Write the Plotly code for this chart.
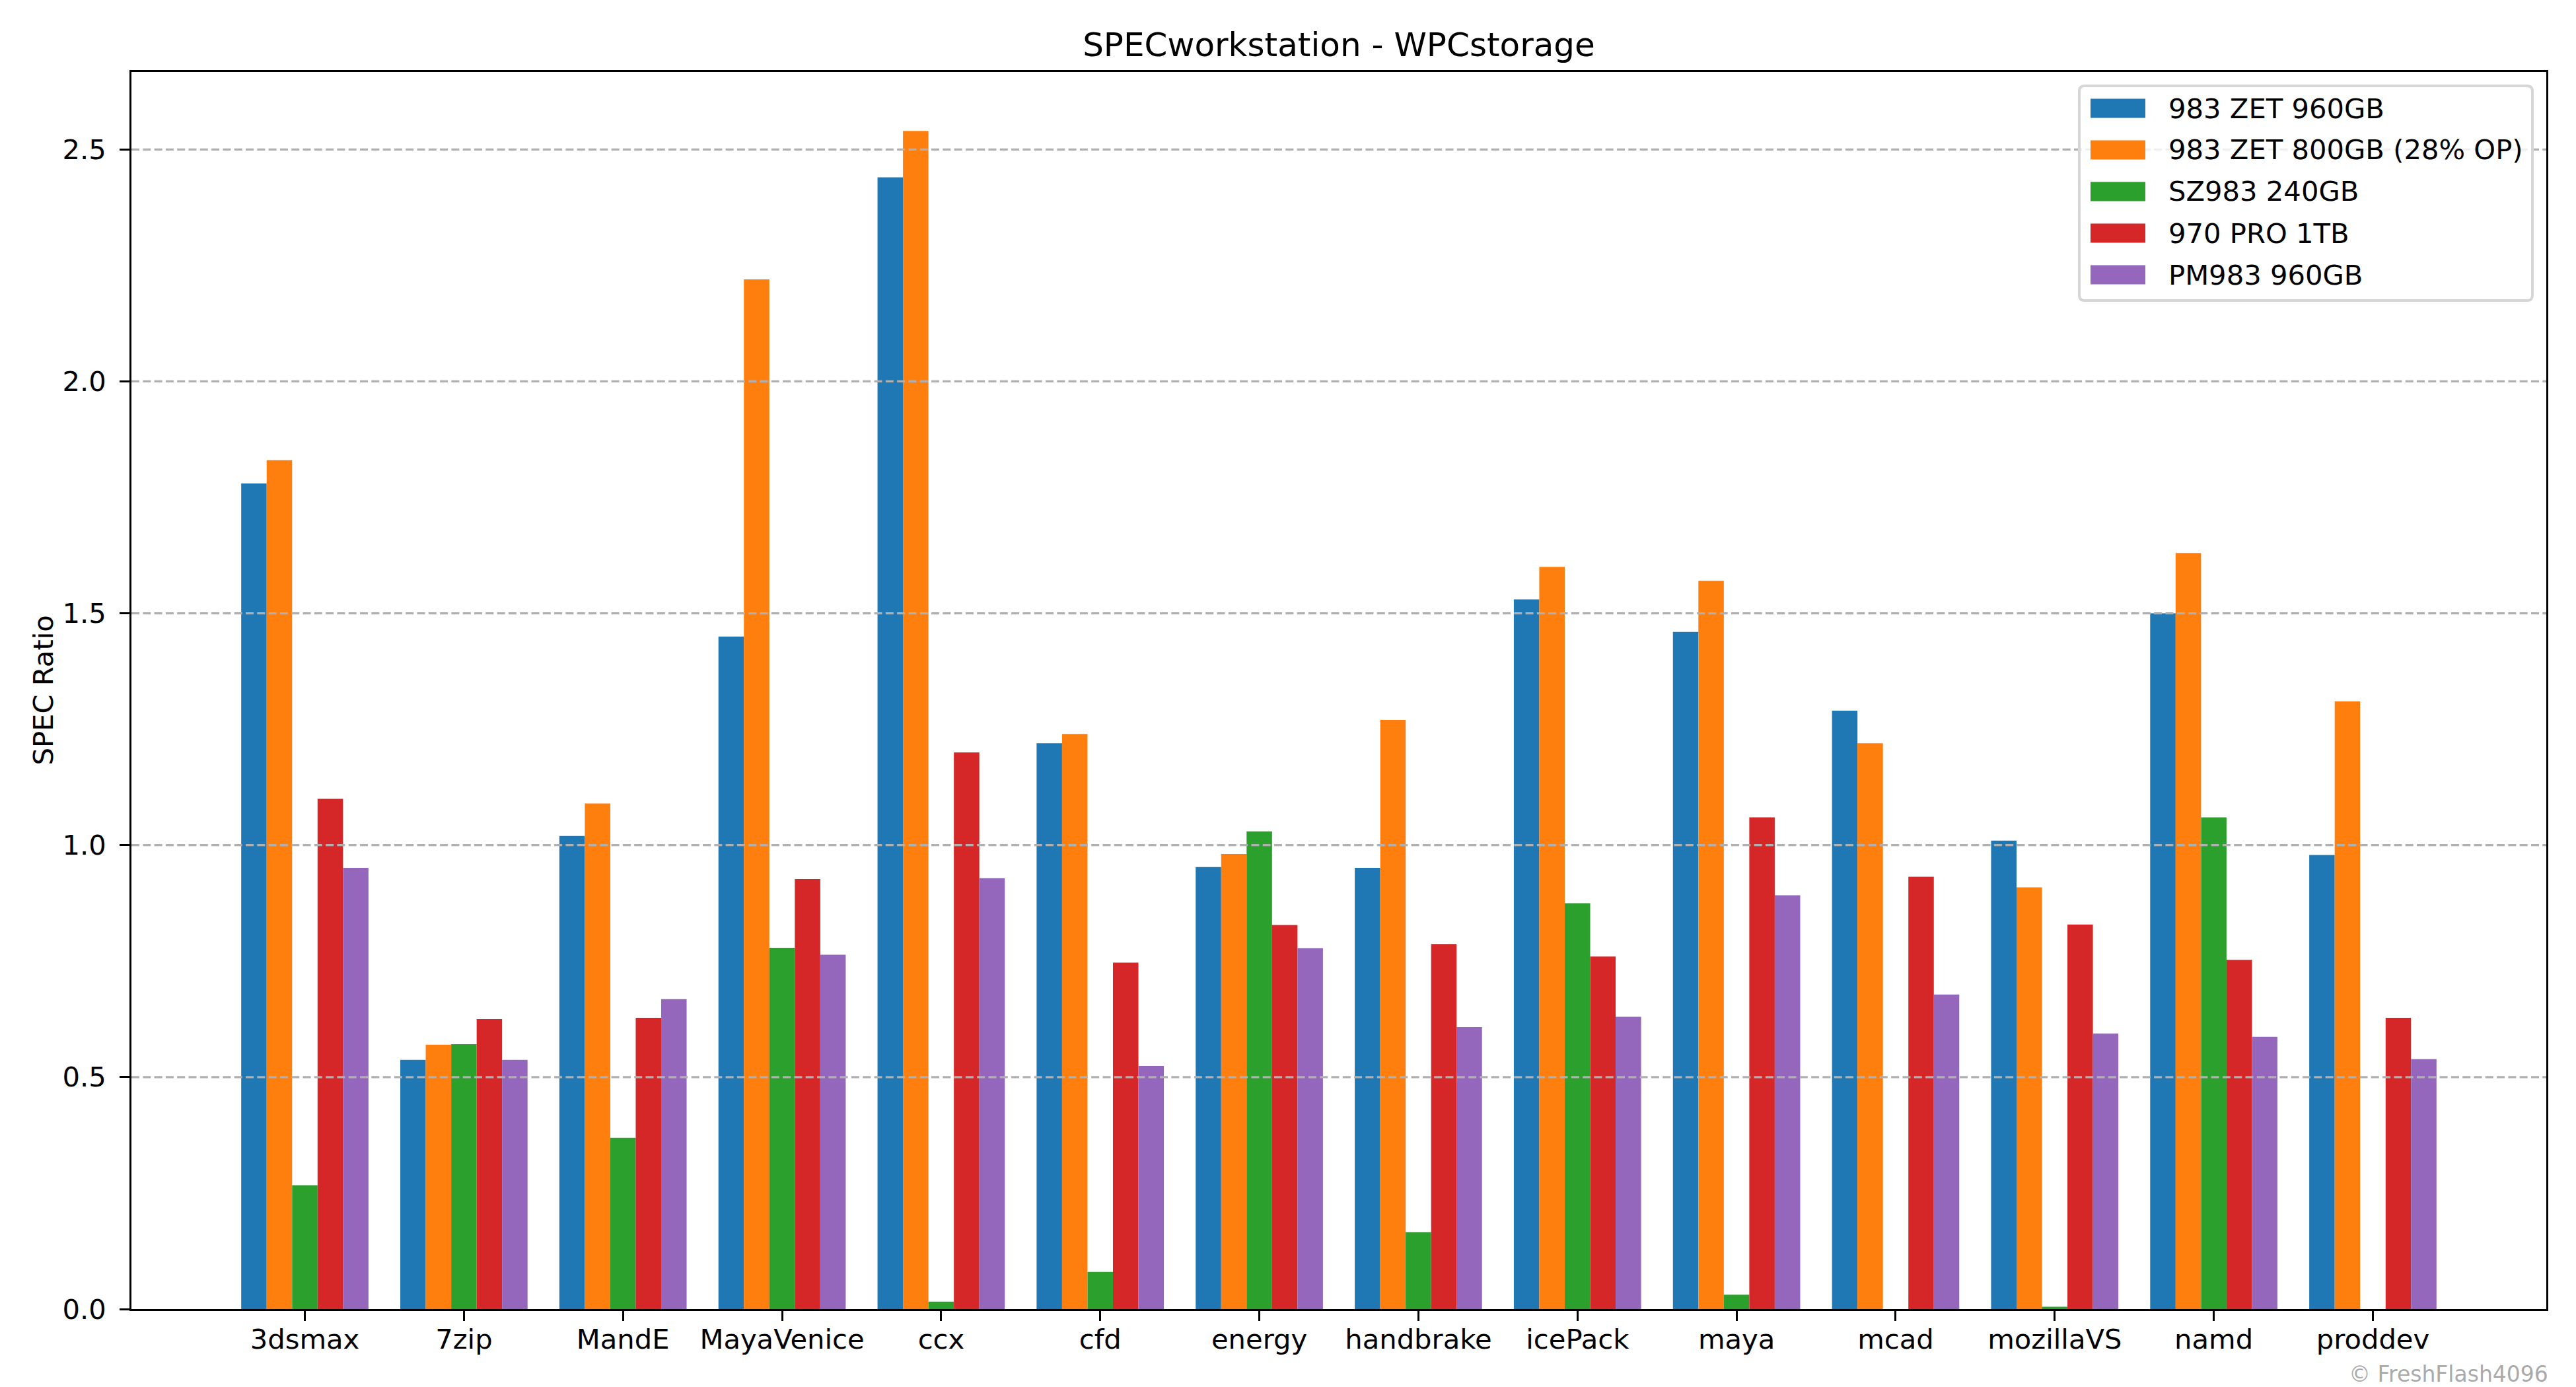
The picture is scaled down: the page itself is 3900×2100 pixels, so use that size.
import plotly.graph_objects as go

# ---- data -------------------------------------------------------------
categories = ["3dsmax", "7zip", "MandE", "MayaVenice", "ccx", "cfd", "energy",
              "handbrake", "icePack", "maya", "mcad", "mozillaVS", "namd", "proddev"]

series_names = ["983 ZET 960GB", "983 ZET 800GB (28% OP)", "SZ983 240GB",
                "970 PRO 1TB", "PM983 960GB"]

zet_960 = [1.78, 0.537, 1.02, 1.45, 2.44, 1.22, 0.953, 0.951, 1.53, 1.46, 1.29, 1.01, 1.50, 0.979]
zet_800 = [1.83, 0.570, 1.09, 2.22, 2.54, 1.24, 0.981, 1.27, 1.60, 1.57, 1.22, 0.909, 1.63, 1.31]
sz983_240 = [0.267, 0.571, 0.369, 0.779, 0.016, 0.080, 1.03, 0.166, 0.875, 0.031, 0.0, 0.005, 1.06, 0.0]
pro970_1tb = [1.10, 0.625, 0.628, 0.927, 1.20, 0.747, 0.828, 0.787, 0.760, 1.06, 0.932, 0.829, 0.753, 0.628]
pm983_960 = [0.951, 0.537, 0.668, 0.764, 0.929, 0.524, 0.778, 0.608, 0.630, 0.892, 0.678, 0.594, 0.587, 0.539]

y_ticks = [0.0, 0.5, 1.0, 1.5, 2.0, 2.5]

# ---- styling ------------------------------------------------------------
colors = ["#1f77b4", "#ff7f0e", "#2ca02c", "#d62728", "#9467bd"]
FONT = "DejaVu Sans"
W, H = 3900, 2100
L, R, T, B = 199, 3855, 109, 1982          # plot area in pixels
PW, PH = R - L, B - T


def xp(px):
    return (px - L) / PW


def yp(py):
    return (B - py) / PH


fig = go.Figure()
all_series = [zet_960, zet_800, sz983_240, pro970_1tb, pm983_960]
for name, vals, col in zip(series_names, all_series, colors):
    fig.add_trace(go.Bar(x=categories, y=vals, name=name, marker_color=col,
                         marker_line_width=0, showlegend=False))

shapes = []
# dashed grid lines drawn above the bars (as in the reference)
for v in y_ticks[1:]:
    shapes.append(dict(type="line", xref="paper", x0=0, x1=1, yref="y", y0=v, y1=v,
                       line=dict(color="#b0b0b0", width=3.3, dash="12px,5.3px"),
                       layer="above"))

# legend frame (rounded)
bx0, bx1, by0, by1 = xp(3148), xp(3834), yp(130), yp(455)
rx, ry = 8 / PW, 8 / PH
path = (f"M{bx0+rx},{by0} L{bx1-rx},{by0} Q{bx1},{by0} {bx1},{by0-ry} "
        f"L{bx1},{by1+ry} Q{bx1},{by1} {bx1-rx},{by1} L{bx0+rx},{by1} "
        f"Q{bx0},{by1} {bx0},{by1+ry} L{bx0},{by0-ry} Q{bx0},{by0} {bx0+rx},{by0} Z")
shapes.append(dict(type="path", xref="paper", yref="paper", path=path,
                   fillcolor="rgba(255,255,255,0.8)",
                   line=dict(color="#d6d6d6", width=4), layer="above"))

annotations = []
for i, (name, col) in enumerate(zip(series_names, colors)):
    cy = 164 + 63 * i
    shapes.append(dict(type="rect", xref="paper", yref="paper",
                       x0=xp(3165), x1=xp(3248), y0=yp(cy - 14.6), y1=yp(cy + 14.6),
                       fillcolor=col, line=dict(width=0), layer="above"))
    annotations.append(dict(text=name, xref="paper", yref="paper", x=xp(3281), y=yp(cy),
                            xanchor="left", yanchor="middle", showarrow=False,
                            font=dict(family=FONT, size=41.7, color="black")))

# y axis label
annotations.append(dict(text="SPEC Ratio", xref="paper", yref="paper", x=xp(65), y=0.5,
                        xanchor="center", yanchor="middle", textangle=-90, showarrow=False,
                        font=dict(family=FONT, size=41.7, color="black")))
# watermark
annotations.append(dict(text="© FreshFlash4096", xref="paper", yref="paper",
                        x=xp(3860), y=yp(2080), xanchor="right", yanchor="middle",
                        showarrow=False, font=dict(family=FONT, size=33, color="#aaaaaa")))

fig.update_layout(
    width=W, height=H,
    margin=dict(l=L, r=W - R, t=T, b=H - B, pad=0),
    paper_bgcolor="white", plot_bgcolor="white",
    barmode="group", bargap=0.2, bargroupgap=0,
    font=dict(family=FONT, size=41.7, color="black"),
    title=dict(text="SPECworkstation - WPCstorage", x=xp((L + R) / 2), xref="paper",
               xanchor="center", y=1 - 67 / H, yref="container", yanchor="middle",
               font=dict(family=FONT, size=50, color="black")),
    shapes=shapes, annotations=annotations,
    showlegend=False,
)
fig.update_xaxes(type="category", range=[-1.09, 14.09], showgrid=False,
                 showline=True, mirror=True, linecolor="black", linewidth=3.33,
                 ticks="outside", ticklen=14.6, tickwidth=3.33, tickcolor="black",
                 ticklabelstandoff=-8, tickfont=dict(family=FONT, size=41.7, color="black"),
                 zeroline=False)
fig.update_yaxes(range=[0, 2.667], tickvals=y_ticks, tickformat=".1f", showgrid=False,
                 showline=True, mirror=True, linecolor="black", linewidth=3.33,
                 ticks="outside", ticklen=14.6, tickwidth=3.33, tickcolor="black",
                 ticklabelstandoff=12, tickfont=dict(family=FONT, size=41.7, color="black"),
                 zeroline=False)

fig.write_html("out.html", config={"displayModeBar": False},
               post_script="document.body.style.margin='0';")
